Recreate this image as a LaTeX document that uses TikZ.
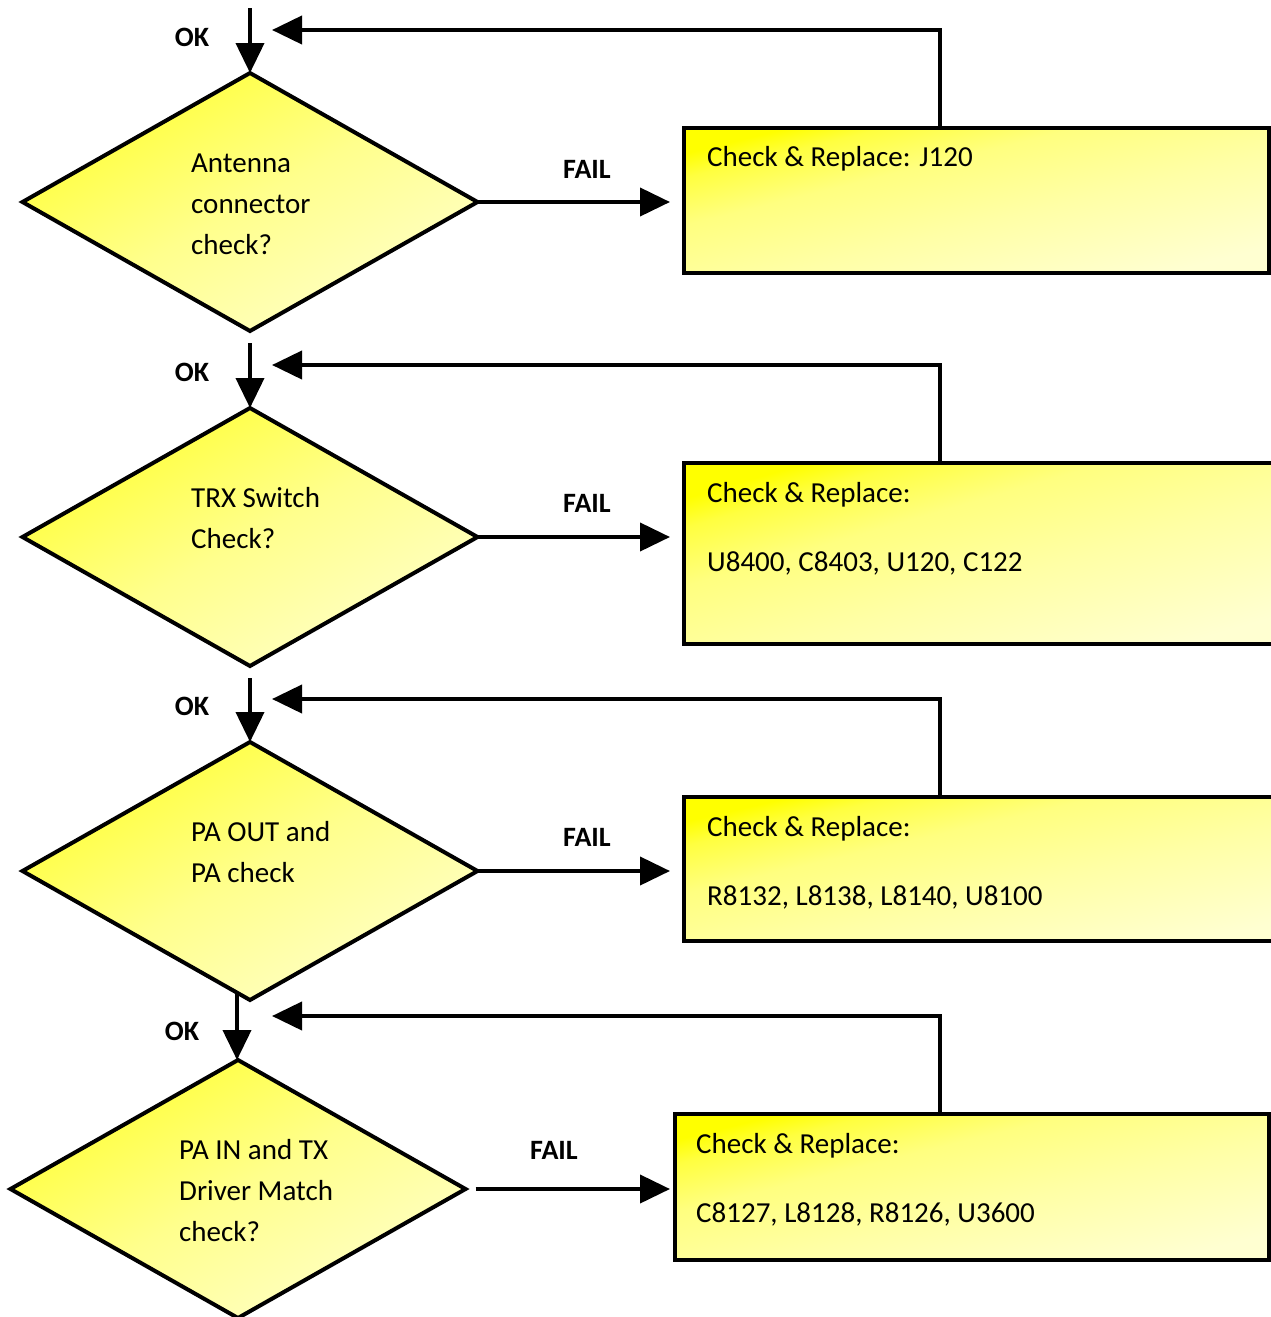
\documentclass[tikz,border=0pt]{standalone}
\usepackage{fontspec}
\setmainfont{Carlito}
\usetikzlibrary{arrows.meta,shapes.geometric}
\pgfdeclareverticalshading{boxshade}{100bp}{color(0bp)=(yellow!18); color(25bp)=(yellow!18); color(45bp)=(yellow!35); color(60bp)=(yellow!50); color(70bp)=(yellow!75); color(75bp)=(yellow); color(100bp)=(yellow)}
\pgfdeclareverticalshading{diashade}{100bp}{color(0bp)=(yellow!22); color(25bp)=(yellow!22); color(50bp)=(yellow!45); color(75bp)=(yellow!80); color(100bp)=(yellow!80)}
\begin{document}
\begin{tikzpicture}[x=1pt,y=-1pt,
  decision/.style={diamond, draw=black, line width=4pt, shading=diashade, shading angle=29.6,
    minimum width=455pt, minimum height=258pt, inner sep=0pt, outer sep=0pt, line join=miter},
  repbox/.style={rectangle, draw=black, line width=4pt, anchor=north west, shading=boxshade,
    shading angle=#1, inner sep=0pt, outer sep=0pt},
  txt/.style={anchor=west, inner sep=0pt, align=left, font=\fontsize{29}{41}\selectfont},
  lbl/.style={inner sep=0pt, font=\fontsize{28}{32}\selectfont\bfseries},
  arr/.style={line width=4pt, -{Triangle[length=30pt,width=28pt]}},
]
\path[use as bounding box, clip] (0,0) rectangle (1271,1317);

% decisions
\node[decision] (d1) at (250,202) {};
\node[decision] (d2) at (250,537) {};
\node[decision] (d3) at (250,871) {};
\node[decision] (d4) at (238,1189) {};

% boxes
\node[repbox=13.9, minimum width=585pt, minimum height=145pt] (b1) at (684,128) {};
\node[repbox=16.3, minimum width=620pt, minimum height=181pt] (b2) at (684,463) {};
\node[repbox=13.1, minimum width=620pt, minimum height=144pt] (b3) at (684,797) {};
\node[repbox=13.8, minimum width=594pt, minimum height=146pt] (b4) at (675,1114) {};

% diamond texts
\node[txt] (t1) at (191,204) {Antenna\\connector\\check?};
\node[txt] (t2) at (191,518) {TRX Switch\\Check?};
\node[txt] (t3) at (191,852) {PA OUT and\\PA check};
\node[txt] (t4) at (179,1191) {PA IN and TX\\Driver Match\\check?};

% box texts
\node[txt] (bt1) at (707,159) {Check \& Replace: J120};
\node[txt] (bt2a) at (707,495) {Check \& Replace:};
\node[txt] (bt2b) at (707,563) {U8400, C8403, U120, C122};
\node[txt] (bt3a) at (707,829) {Check \& Replace:};
\node[txt] (bt3b) at (707,897) {R8132, L8138, L8140, U8100};
\node[txt] (bt4a) at (696,1146) {Check \& Replace:};
\node[txt] (bt4b) at (696,1214) {C8127, L8128, R8126, U3600};

% labels
\node[lbl] (ok1) at (192,37) {OK};
\node[lbl] (ok2) at (192,372) {OK};
\node[lbl] (ok3) at (192,706) {OK};
\node[lbl] (ok4) at (182,1031) {OK};
\node[lbl] (f1) at (587,169) {FAIL};
\node[lbl] (f2) at (587,503) {FAIL};
\node[lbl] (f3) at (587,837) {FAIL};
\node[lbl] (f4) at (554,1150) {FAIL};

% free ends
\coordinate (s1) at (250,8);
\coordinate (s2) at (250,343);
\coordinate (s3) at (250,678);
\coordinate (s4) at (237,992);
\coordinate (r1) at (272,30);
\coordinate (r2) at (272,365);
\coordinate (r3) at (272,699);
\coordinate (r4) at (272,1016);

% OK arrows
\draw[arr] (s1) -- (d1.north);
\draw[arr] (s2) -- (d2.north);
\draw[arr] (s3) -- (d3.north);
\draw[arr] (s4) -- (s4 |- d4.north);

% FAIL arrows
\draw[arr, shorten >=14pt] (d1.east) -- (d1.east -| b1.west);
\draw[arr, shorten >=14pt] (d2.east) -- (d2.east -| b2.west);
\draw[arr, shorten >=14pt] (d3.east) -- (d3.east -| b3.west);
\draw[arr, shorten <=10pt, shorten >=5pt] (d4.east) -- (d4.east -| b4.west);

% return arrows
\draw[arr] (b1.north west) ++(256,0) |- (r1);
\draw[arr] (b2.north west) ++(256,0) |- (r2);
\draw[arr] (b3.north west) ++(256,0) |- (r3);
\draw[arr] (b4.north west) ++(265,0) |- (r4);
\end{tikzpicture}
\end{document}
